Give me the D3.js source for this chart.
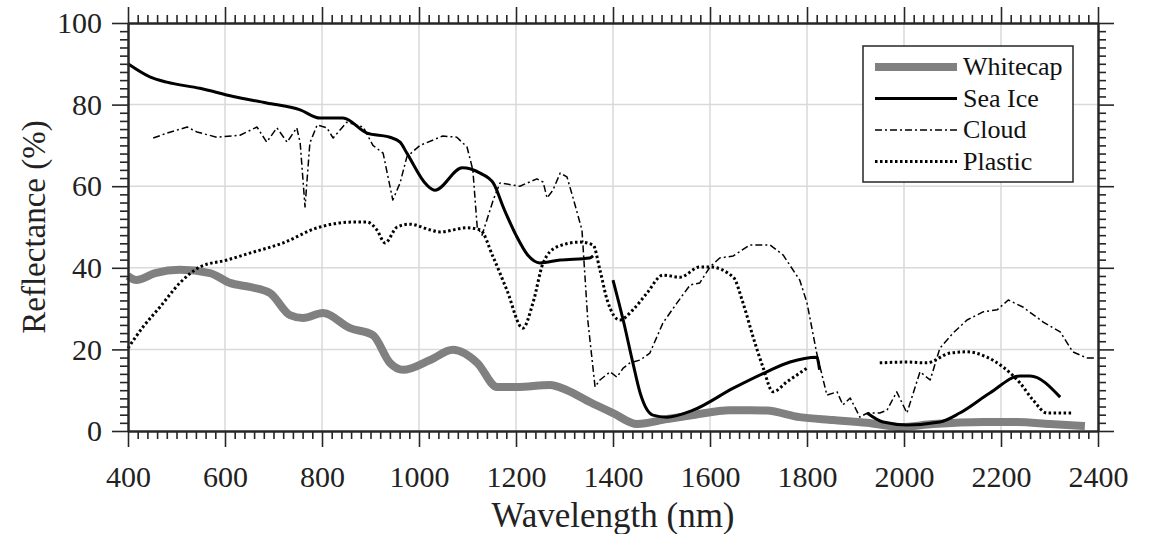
<!DOCTYPE html>
<html>
<head>
<meta charset="utf-8">
<script src="https://cdn.jsdelivr.net/npm/d3@7"></script>
<style>
  body { margin: 0; background: #fff; }
  svg { display: block; font-family: "Liberation Serif", "Times New Roman", serif; }
</style>
</head>
<body>
<svg width="1152" height="534"></svg>
<script>
// reflectance spectra, [wavelength nm, reflectance %], null = gap in the record
const whitecap = [
  [400, 38], [417, 37], [456, 38.7], [507, 39.5], [569, 38.7], [610, 36.3], [651, 35.3],
  [693, 33.8], [734, 28.4], [761, 27.7], [802, 28.9], [858, 25.2], [905, 23.5], [940, 16.7],
  [967, 15], [1023, 17.4], [1070, 19.9], [1120, 16.7], [1161, 10.8], [1202, 10.8], [1270, 11.3],
  [1305, 10], [1352, 7.1], [1400, 4.4], [1450, 1.7], [1511, 2.9], [1565, 3.9], [1641, 5.1],
  [1682, 5.1], [1717, 5], [1785, 3.4], [1854, 2.7], [1924, 2], [1992, 1], [2060, 1.7],
  [2163, 2.2], [2233, 2.2], [2301, 1.7], [2373, 1.2]
];

const seaIce = [
  [400, 90], [445, 86.8], [480, 85.5], [548, 84], [617, 82], [686, 80.4], [755, 78.7],
  [796, 76.7], [843, 76.7], [893, 73], [940, 72], [961, 70.8], [975, 68.1], [1016, 60.3],
  [1033, 59], [1089, 64.5], [1126, 63.2], [1153, 60.8], [1175, 54.5], [1200, 48], [1225, 43],
  [1249, 41.2], [1291, 41.9], [1352, 42.4], [1359, 42.9],
  null,
  [1400, 37], [1421, 27.2], [1441, 16.7], [1456, 9.3], [1482, 3.9], [1511, 3.4], [1565, 5.1],
  [1648, 10.5], [1717, 14.5], [1765, 16.9], [1820, 18.1], [1826, 15],
  null,
  [1924, 4.4], [1957, 2.2], [2006, 1.5], [2074, 2.2], [2115, 4.4], [2177, 9.3], [2239, 13.5],
  [2260, 13.5], [2322, 8.3]
];

const cloud = [
  [452, 71.8], [480, 73], [522, 74.5], [542, 73.3], [583, 72], [631, 72.5], [666, 74.5],
  [686, 70.8], [707, 74.3], [728, 70.8], [748, 74.3], [755, 70.6], [765, 54.9], [775, 70.6],
  [790, 75], [810, 74.3], [823, 71.8], [851, 75.7], [885, 74.5], [905, 70], [926, 68.1],
  [946, 56.6], [961, 60.8], [975, 67.2], [1002, 70], [1049, 72.3], [1078, 72], [1099, 69.6],
  [1111, 64], [1120, 50], [1130, 48], [1153, 56.6], [1167, 60.8], [1208, 60], [1243, 61.8],
  [1256, 61], [1264, 57.1], [1276, 59], [1291, 63.2], [1305, 62.3], [1317, 57.4], [1336, 49.3],
  [1348, 27.2], [1363, 10.8], [1373, 12.5], [1394, 14.5], [1408, 13.2], [1421, 15.4],
  [1435, 16.7], [1456, 17.4], [1476, 19.1], [1503, 26.5], [1532, 31.4], [1559, 35.8],
  [1579, 36.3], [1600, 40.2], [1620, 42.4], [1648, 42.9], [1682, 45.6], [1724, 45.6],
  [1751, 43.1], [1785, 37], [1800, 31.4], [1820, 19.1], [1841, 8.8], [1862, 9.6], [1874, 6.4],
  [1889, 8.1], [1909, 3.4], [1924, 4.4], [1950, 4.4], [1965, 5.1], [1985, 9.6], [2006, 4.4],
  [2033, 14.5], [2054, 12.5], [2074, 20.3], [2101, 24], [2130, 27.2], [2163, 29.2],
  [2192, 29.7], [2215, 32.1], [2245, 30.4], [2287, 26.7], [2322, 24.3], [2348, 19.4],
  [2377, 17.9], [2394, 17.9]
];

const plastic = [
  [400, 20.3], [431, 25.5], [466, 30.4], [507, 36.3], [548, 40.2], [604, 41.9], [651, 43.6],
  [720, 46.1], [790, 49.8], [864, 51.2], [893, 51.2], [913, 49.3], [930, 46.1], [955, 50],
  [981, 50.7], [1023, 49.3], [1043, 48.8], [1099, 49.8], [1126, 49.3], [1153, 42.6],
  [1181, 34.6], [1214, 25.2], [1235, 31.4], [1256, 41.2], [1284, 45.1], [1332, 46.3],
  [1359, 45.6], [1373, 39.5], [1388, 32.1], [1414, 27.2], [1441, 29.7], [1470, 33.8],
  [1503, 38.2], [1538, 37.7], [1579, 40.2], [1600, 40.2], [1648, 37.7], [1668, 31.4],
  [1689, 23], [1709, 15.7], [1730, 9.6], [1758, 12], [1800, 15.4],
  null,
  [1950, 16.7], [2006, 16.9], [2047, 16.7], [2095, 19.1], [2130, 19.4], [2171, 18.1],
  [2204, 15.7], [2239, 11.8], [2266, 7.6], [2295, 4.4], [2322, 4.4], [2346, 4.4]
];

const seriesNames = ["Whitecap", "Sea Ice", "Cloud", "Plastic"];
const xTicks = [400, 600, 800, 1000, 1200, 1400, 1600, 1800, 2000, 2200, 2400];
const yTicks = [0, 20, 40, 60, 80, 100];

const styles = {
  "Whitecap": {color: "#808080", width: 8, dash: null, curve: d3.curveMonotoneX},
  "Sea Ice": {color: "#000", width: 3, dash: null, curve: d3.curveMonotoneX},
  "Cloud": {color: "#000", width: 1.5, dash: "7,3,2,3", curve: d3.curveLinear},
  "Plastic": {color: "#000", width: 3, dash: "2.5,2.5", curve: d3.curveMonotoneX}
};
const allSeries = {"Whitecap": whitecap, "Sea Ice": seaIce, "Cloud": cloud, "Plastic": plastic};

const svg = d3.select("svg");
const margin = {top: 23, right: 54, bottom: 103, left: 128};
const width = 1152 - margin.left - margin.right;
const height = 534 - margin.top - margin.bottom;
const g = svg.append("g").attr("transform", `translate(${margin.left},${margin.top})`);

const x = d3.scaleLinear().domain([400, 2400]).range([0, width]);
const y = d3.scaleLinear().domain([0, 100]).range([height, 0]);

// grid
g.append("g").selectAll("line").data(xTicks.slice(1, -1)).join("line")
  .attr("x1", d => x(d)).attr("x2", d => x(d)).attr("y1", 0).attr("y2", height)
  .attr("stroke", "#d9d9d9").attr("stroke-width", 1.5);
g.append("g").selectAll("line").data(yTicks.slice(1, -1)).join("line")
  .attr("y1", d => y(d)).attr("y2", d => y(d)).attr("x1", 0).attr("x2", width)
  .attr("stroke", "#d9d9d9").attr("stroke-width", 1.5);

// series
seriesNames.forEach(name => {
  const st = styles[name];
  const line = d3.line()
    .defined(d => d !== null)
    .x(d => x(d[0])).y(d => y(d[1]))
    .curve(st.curve);
  g.append("path")
    .datum(allSeries[name])
    .attr("fill", "none")
    .attr("stroke", st.color)
    .attr("stroke-width", st.width)
    .attr("stroke-dasharray", st.dash)
    .attr("stroke-linejoin", "round")
    .attr("d", line);
});

// axes, ticks outward on every side
const axisColor = "#262626";
const minorX = d3.range(400, 2401, 20).filter(v => v % 200 !== 0);
const minorY = d3.range(0, 101, 2).filter(v => v % 20 !== 0);

function styleAxis(sel) {
  sel.select(".domain").attr("stroke", axisColor).attr("stroke-width", 2);
  sel.selectAll(".tick line").attr("stroke", axisColor).attr("stroke-width", 1.6);
  sel.selectAll("text").attr("fill", "#222").attr("font-size", 30)
    .attr("font-family", "Liberation Serif, Times New Roman, serif");
}

const gx = g.append("g").attr("transform", `translate(0,${height})`)
  .call(d3.axisBottom(x).tickValues(xTicks).tickFormat(d3.format("d")).tickSize(16).tickSizeOuter(0).tickPadding(19));
styleAxis(gx);
g.append("g").attr("transform", `translate(0,${height})`)
  .call(d3.axisBottom(x).tickValues(minorX).tickFormat("").tickSize(8).tickSizeOuter(0)).call(styleAxis);

g.append("g").call(d3.axisTop(x).tickValues(xTicks).tickFormat("").tickSize(16).tickSizeOuter(0)).call(styleAxis);
g.append("g").call(d3.axisTop(x).tickValues(minorX).tickFormat("").tickSize(8).tickSizeOuter(0)).call(styleAxis);

const gy = g.append("g")
  .call(d3.axisLeft(y).tickValues(yTicks).tickSize(16).tickSizeOuter(0).tickPadding(10));
styleAxis(gy);
g.append("g").call(d3.axisLeft(y).tickValues(minorY).tickFormat("").tickSize(8).tickSizeOuter(0)).call(styleAxis);

g.append("g").attr("transform", `translate(${width},0)`)
  .call(d3.axisRight(y).tickValues(yTicks).tickFormat("").tickSize(16).tickSizeOuter(0)).call(styleAxis);
g.append("g").attr("transform", `translate(${width},0)`)
  .call(d3.axisRight(y).tickValues(minorY).tickFormat("").tickSize(8).tickSizeOuter(0)).call(styleAxis);

// axis titles
g.append("text")
  .attr("x", width / 2).attr("y", height + 96)
  .attr("text-anchor", "middle").attr("font-size", 35).attr("fill", "#222")
  .text("Wavelength (nm)");
g.append("text")
  .attr("transform", `translate(${45 - margin.left},${height / 2}) rotate(-90)`)
  .attr("text-anchor", "middle").attr("font-size", 33).attr("fill", "#222")
  .text("Reflectance (%)");

// legend
const lg = svg.append("g").attr("transform", "translate(863,46)");
lg.append("rect").attr("width", 210).attr("height", 136)
  .attr("fill", "#fff").attr("stroke", axisColor).attr("stroke-width", 1.5);
seriesNames.forEach((name, i) => {
  const st = styles[name];
  const yy = 21 + i * 31.5;
  lg.append("line").attr("x1", 12).attr("x2", 94).attr("y1", yy).attr("y2", yy)
    .attr("stroke", st.color).attr("stroke-width", st.width).attr("stroke-dasharray", st.dash);
  lg.append("text").attr("x", 100).attr("y", yy + 8)
    .attr("font-size", 26).attr("fill", "#111").text(name);
});
</script>
</body>
</html>
